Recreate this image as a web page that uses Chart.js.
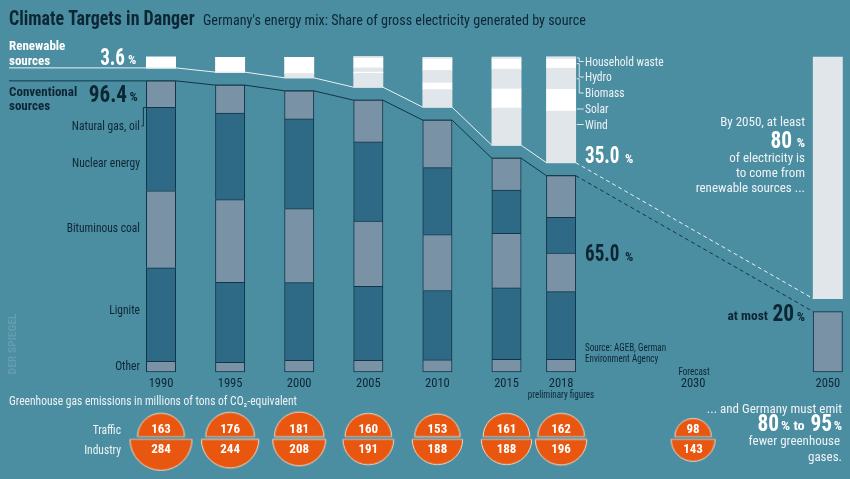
<!DOCTYPE html>
<html><head><meta charset="utf-8">
<style>html,body{margin:0;padding:0;background:#4b8da1;overflow:hidden}canvas{display:block}</style>
<script src="https://cdn.jsdelivr.net/npm/chart.js@4"></script>
</head><body><canvas id="c" width="850" height="479"></canvas>
<script>
// ---- data (percent of gross electricity) ----
const barYears   = [1990, 1995, 2000, 2005, 2010, 2015, 2018];
const other      = [3.5, 3.2, 3.9, 3.9, 4.0, 4.2, 4.2];
const lignite    = [31.0, 26.5, 25.7, 24.5, 23.0, 23.7, 22.4];
const coal       = [25.5, 27.4, 24.5, 21.6, 18.5, 18.0, 12.8];
const nuclear    = [27.6, 28.6, 29.7, 26.2, 22.2, 14.3, 11.8];
const gasOil     = [8.8, 9.3, 9.3, 13.8, 15.7, 10.6, 13.8];
const wind       = [0, 0, 1.4, 4.6, 5.8, 12.3, 17.1];
const solar      = [0, 0, 0, 0.4, 2.2, 6.3, 7.2];
const biomass    = [0, 0, 0, 1.4, 4.2, 6.6, 7.0];
const hydro      = [3.6, 4.9, 5.4, 3.2, 3.7, 3.3, 3.0];
const waste      = [0, 0, 0, 0.6, 0.6, 0.7, 0.8];
const targetYear = [2050];
const targetConventional = [20];
const targetRenewable    = [80];
const emissionYears = [1990, 1995, 2000, 2005, 2010, 2015, 2018, 2030];
const traffic    = [163, 176, 181, 160, 153, 161, 162, 98];
const industry   = [284, 244, 208, 191, 188, 188, 196, 143];
const tickYears  = [1990, 1995, 2000, 2005, 2010, 2015, 2018, 2030, 2050];

// ---- layout of the broken time axis and styles ----
const axisSlots = {1990:0,1995:1,2000:2,2005:3,2010:4,2015:5,2018:5.79,2030:7.7,2050:9.65};
const slotPx = 69.1, zeroPx = 161, barW = 29.3, pctPx = 3.02, baseline = 372, gap = 4.3;
const C = {bg:'#4b8da1', dark:'#2e6a85', light:'#7a92a6', edge:'#103648', pale:'#e0e6ea', white:'#ffffff',
           ink:'#0d2634', orange:'#e9560f', rim:'#f3dcc4', flat:'#b5a99a'};
const FN = '"Liberation Sans Narrow","Roboto Condensed","Liberation Sans",sans-serif';
const halfSlot = barW / 2 / slotPx;
const trafficRowY = (baseline - 436.7) / pctPx, industryRowY = (baseline - 439.3) / pctPx;
const rOf = v => 1.84 * Math.sqrt(v);

const sum = i => other[i] + lignite[i] + coal[i] + nuclear[i] + gasOil[i];
const pts = (years, vals) => years.map((y, i) => ({x: axisSlots[y], y: vals[i]}));
const barSet = (label, years, vals, color, extra) => Object.assign({
  type:'bar', label, data:pts(years, vals), backgroundColor:color, barThickness:barW,
  xAxisID:'x', yAxisID:'y', stack:'mix', borderWidth:0}, extra||{});
const conv = {borderColor:C.edge, borderWidth:1};

// connector lines between bars
function connector(getY, startVal) {
  const out = [{x:(9 - zeroPx) / slotPx, y:startVal}];
  barYears.forEach((yr, i) => {
    out.push({x:axisSlots[yr] - halfSlot, y:getY(i)});
    out.push({x:axisSlots[yr] + halfSlot, y:getY(i)});
  });
  return out;
}
const whiteLine = connector(i => sum(i) + gap, sum(0) + gap);
const darkLine  = connector(i => sum(i), sum(0));
whiteLine.push({x:axisSlots[2050] - halfSlot, y:targetConventional[0] + gap});
darkLine.push({x:axisSlots[2050] - halfSlot, y:targetConventional[0]});
const solidCount = barYears.length * 2;
const lineSet = (label, data, color, dash) => ({type:'line', label, data, borderColor:color, borderWidth:1,
  pointRadius:0, fill:false, tension:0, xAxisID:'x', yAxisID:'yFree', order:5,
  segment:{borderDash:c => c.p0DataIndex >= solidCount ? dash : undefined}});

// half-circle point styles
function halfCircle(r, up) {
  const s = Math.ceil(2 * r + 8), cv = document.createElement('canvas');
  cv.width = cv.height = s;
  const g = cv.getContext('2d'), m = s / 2;
  g.beginPath();
  g.arc(m, m, r, up ? Math.PI : 0, up ? 2 * Math.PI : Math.PI);
  g.closePath();
  g.fillStyle = C.orange; g.fill();
  g.strokeStyle = C.rim; g.lineWidth = 1; g.stroke();
  g.beginPath(); g.moveTo(m - r, m); g.lineTo(m + r, m);
  g.strokeStyle = C.flat; g.lineWidth = 1.4; g.stroke();
  return cv;
}
const bubbleSet = (label, vals, rowY, up) => ({type:'bubble', label,
  data:emissionYears.map((y, i) => ({x:axisSlots[y], y:rowY, r:rOf(vals[i])})),
  pointStyle:c => halfCircle(c.raw ? c.raw.r : 10, up),
  backgroundColor:C.orange, borderWidth:0, xAxisID:'x', yAxisID:'yFree', clip:false, order:4});

// text
function txt(g, x, y, s, font, color, align, sx) {
  g.save();
  g.translate(x, y + 1); g.scale(sx || 1, 1);
  g.font = font; g.fillStyle = color; g.textAlign = align || 'left'; g.textBaseline = 'middle';
  g.fillText(s, 0, 0);
  g.restore();
}
const F = (px, b) => (b ? 'bold ' : '') + px + 'px ' + FN;
const BIG = 23, BIGX = 0.83, BIG2 = 0.93;
const textPlugin = {
  id:'texts',
  beforeDraw(ch) { const g = ch.ctx; g.save(); g.fillStyle = C.bg; g.fillRect(0,0,ch.width,ch.height); g.restore(); },
  afterDraw(ch) {
    const g = ch.ctx, sx = ch.scales.x, sy = ch.scales.y;
    g.save();
    // leader lines derived from the 2018 / 1990 segments
    const last = barYears.length - 1, right = sx.getPixelForValue(axisSlots[2018]) + barW / 2;
    let acc = sum(last) + gap;
    const segs = [wind, solar, biomass, hydro, waste].map(a => { const m = acc + a[last] / 2; acc += a[last]; return sy.getPixelForValue(m); });
    const labelYs = [124.5, 109, 93, 77, 61.5];
    g.strokeStyle = C.pale; g.lineWidth = 1;
    segs.forEach((py, i) => {
      g.beginPath();
      if (i < 2) { g.moveTo(right + 1, labelYs[i]); g.lineTo(right + 8, labelYs[i]); }
      else { g.moveTo(right + 1, py); g.lineTo(right + 3.5, py); g.lineTo(right + 3.5, labelYs[i]); g.lineTo(right + 8, labelYs[i]); }
      g.stroke();
    });
    const left = sx.getPixelForValue(axisSlots[1990]) - barW / 2;
    const gy = sy.getPixelForValue(sum(0) - gasOil[0]);
    g.strokeStyle = C.edge;
    g.beginPath(); g.moveTo(left, gy); g.lineTo(left - 3, gy); g.lineTo(left - 3, 126); g.lineTo(left - 5, 126); g.stroke();

    const W = C.white, P = '#eef3f5', K = C.ink, R = 0.96;
    txt(g, 9, 18.5, 'Climate Targets in Danger', F(20.5, true), K, 'left', 0.875);
    txt(g, 203, 20, "Germany's energy mix: Share of gross electricity generated by source", F(14.5), K, 'left', 0.975);
    txt(g, 9, 46, 'Renewable', F(13, true), W);
    txt(g, 9, 60.5, 'sources', F(13, true), W);
    txt(g, 125, 58, '3.6', F(BIG, true), W, 'right', BIGX);
    txt(g, 128, 60, '%', F(13, true), W);
    txt(g, 9, 91.5, 'Conventional', F(13, true), K);
    txt(g, 9, 105.5, 'sources', F(13, true), K);
    txt(g, 127, 95, '96.4', F(BIG, true), K, 'right', 0.92);
    txt(g, 129.5, 97, '%', F(13, true), K);
    [['Natural gas, oil',126],['Nuclear energy',163],['Bituminous coal',228],['Lignite',309.5],['Other',366]]
      .forEach(([s, y]) => txt(g, 140, y, s, F(12), K, 'right', R));
    [['Household waste',61.5],['Hydro',77],['Biomass',93],['Solar',109],['Wind',124.5]]
      .forEach(([s, y]) => txt(g, 585, y, s, F(12), P, 'left', R));
    txt(g, 585, 156.5, '35.0', F(BIG, true), W, 'left', BIGX);
    txt(g, 625, 158.5, '%', F(13, true), W);
    txt(g, 585, 254.5, '65.0', F(BIG, true), K, 'left', BIGX);
    txt(g, 625, 256.5, '%', F(13, true), K);
    txt(g, 585, 347, 'Source: AGEB, German', F(10), K, 'left', 0.91);
    txt(g, 585, 358, 'Environment Agency', F(10), K, 'left', 0.91);
    txt(g, 694, 371.5, 'Forecast', F(10), K, 'center', 0.91);
    txt(g, 561, 394.5, 'preliminary figures', F(10), K, 'center', 0.91);
    txt(g, 805, 122, 'By 2050, at least', F(13), P, 'right');
    txt(g, 792, 141, '80', F(BIG, true), W, 'right', BIG2);
    txt(g, 805, 143, '%', F(13, true), W, 'right');
    txt(g, 805, 158, 'of electricity is', F(13), P, 'right');
    txt(g, 805, 173, 'to come from', F(13), P, 'right');
    txt(g, 805, 188, 'renewable sources ...', F(13), P, 'right');
    txt(g, 768, 316, 'at most', F(13.5, true), K, 'right');
    txt(g, 794, 314.5, '20', F(BIG, true), K, 'right', BIG2);
    txt(g, 805, 316.5, '%', F(13, true), K, 'right');
    txt(g, 9, 401, 'Greenhouse gas emissions in millions of tons of CO\u2082-equivalent', F(12), P, 'left', R);
    txt(g, 121, 430, 'Traffic', F(12), P, 'right', R);
    txt(g, 121, 449.5, 'Industry', F(12), P, 'right', R);
    txt(g, 842, 409, '... and Germany must emit', F(13), P, 'right');
    txt(g, 779, 424, '80', F(BIG, true), W, 'right', BIG2);
    txt(g, 781, 426, '% to', F(13, true), W, 'left', 1.1);
    txt(g, 832, 424, '95', F(BIG, true), W, 'right', BIG2);
    txt(g, 842, 426, '%', F(13, true), W, 'right');
    txt(g, 840, 441, 'fewer greenhouse', F(13), P, 'right');
    txt(g, 842, 457, 'gases.', F(13), P, 'right');
    // emission numbers
    ch.data.datasets.forEach((d, di) => {
      if (d.type !== 'bubble') return;
      const vals = d.label === 'Traffic' ? traffic : industry, dy = d.label === 'Traffic' ? -7.5 : 9.5;
      ch.getDatasetMeta(di).data.forEach((el, i) => txt(g, el.x, el.y + dy, String(vals[i]), F(13, true), W, 'center'));
    });
    // watermark
    g.translate(13, 344); g.rotate(-Math.PI / 2);
    txt(g, 0, -1, 'DER SPIEGEL', F(10.5, true), '#659db0', 'center', 1.1);
    g.restore();
  }
};

new Chart(document.getElementById('c'), {
  type:'bar',
  data:{datasets:[
    barSet('Other', barYears, other, C.light, Object.assign({borderSkipped:false}, conv)),
    barSet('Lignite', barYears, lignite, C.dark, conv),
    barSet('Bituminous coal', barYears, coal, C.light, conv),
    barSet('Nuclear energy', barYears, nuclear, C.dark, conv),
    barSet('Natural gas, oil', barYears, gasOil, C.light, conv),
    barSet('Conventional 2050', targetYear, targetConventional, C.light, Object.assign({borderSkipped:false}, conv)),
    barSet('spacer', barYears.concat(targetYear), barYears.concat(targetYear).map(() => gap), 'rgba(0,0,0,0)'),
    barSet('Wind', barYears, wind, C.pale),
    barSet('Solar', barYears, solar, C.white),
    barSet('Biomass', barYears, biomass, C.pale),
    barSet('Hydro', barYears, hydro, C.white),
    barSet('Household waste', barYears, waste, C.pale),
    barSet('Renewable 2050', targetYear, targetRenewable, C.pale),
    lineSet('renewable edge', whiteLine, '#e9f1f3', [4, 3]),
    lineSet('conventional edge', darkLine, C.edge, [4, 3]),
    bubbleSet('Traffic', traffic, trafficRowY, true),
    bubbleSet('Industry', industry, industryRowY, false)
  ]},
  options:{
    responsive:false, animation:false, events:[], devicePixelRatio:1,
    layout:{padding:0, autoPadding:false},
    plugins:{legend:{display:false}, title:{display:false}, tooltip:{enabled:false}},
    scales:{
      x:{type:'linear', offset:false, min:-zeroPx / slotPx, max:(850 - zeroPx) / slotPx,
         position:{yFree:0},
         afterBuildTicks:s => { s.ticks = tickYears.map(y => ({value:axisSlots[y]})); },
         afterFit:s => { s.height = 0; s.paddingLeft = 0; s.paddingRight = 0; },
         grid:{display:false, drawTicks:false}, border:{display:false},
         ticks:{padding:4, autoSkip:false, maxRotation:0, color:C.ink,
                font:{family:FN, size:12.5}, callback:(v, i) => String(tickYears[i])}},
      y:{type:'linear', stacked:true, display:false, min:(baseline - 479) / pctPx, max:baseline / pctPx},
      yFree:{type:'linear', display:false, min:(baseline - 479) / pctPx, max:baseline / pctPx}
    }
  },
  plugins:[textPlugin]
});
</script></body></html>
